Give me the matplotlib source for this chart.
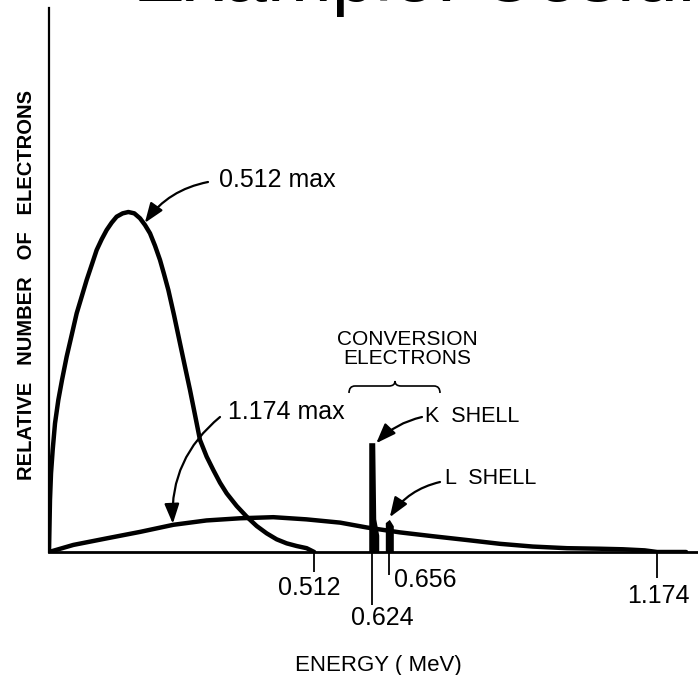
import matplotlib.pyplot as plt
from matplotlib.path import Path
from matplotlib.patches import PathPatch
import numpy as np

# beta spectrum, 0.512 MeV end point
e_512 = [0.0, 0.0013, 0.0019, 0.0039, 0.0071, 0.0116, 0.018, 0.0251, 0.0341, 0.0438,
         0.0534, 0.0631, 0.0727, 0.0824, 0.092, 0.1017, 0.1113, 0.121, 0.1306, 0.1422,
         0.1532, 0.1647, 0.1757, 0.1853, 0.195, 0.2046, 0.2143, 0.222, 0.2304, 0.2413,
         0.2529, 0.2625, 0.2722, 0.2819, 0.2915, 0.3044, 0.3172, 0.3301, 0.343, 0.3623,
         0.3816, 0.4009, 0.4202, 0.4395, 0.4588, 0.4781, 0.4974, 0.512]
n_512 = [0.0, 0.65, 0.956, 1.446, 1.875, 2.365, 2.794, 3.162, 3.591, 3.989,
         4.387, 4.694, 5.0, 5.276, 5.551, 5.748, 5.919, 6.054, 6.164, 6.225,
         6.25, 6.225, 6.134, 6.011, 5.858, 5.631, 5.368, 5.11, 4.816, 4.357,
         3.836, 3.407, 2.978, 2.518, 2.059, 1.752, 1.507, 1.274, 1.078, 0.846,
         0.65, 0.478, 0.343, 0.233, 0.159, 0.11, 0.07, 0.0]

# beta spectrum, 1.174 MeV end point
e_1174 = [0.0, 0.047, 0.111, 0.176, 0.240, 0.304, 0.369, 0.433, 0.497, 0.562, 0.614,
          0.678, 0.741, 0.807, 0.871, 0.934, 1.000, 1.064, 1.108, 1.150, 1.174, 1.23]
n_1174 = [0.0, 0.13, 0.25, 0.37, 0.50, 0.58, 0.62, 0.64, 0.60, 0.54, 0.45,
          0.36, 0.29, 0.22, 0.15, 0.10, 0.07, 0.06, 0.05, 0.03, 0.0, 0.0]

# conversion electron lines
k_energy, k_height = 0.624, 2.0
l_energy, l_height = 0.656, 0.59

tick_energies = [0.512, 0.624, 0.656, 1.174]
tick_labels = ['0.512', '0.624', '0.656', '1.174']

W, H = 698, 675
px = 1.0 / 518   # MeV per pixel
py = 1.0 / 54.4  # y units per pixel

plt.rcParams['font.family'] = ['Liberation Sans', 'DejaVu Sans']
fig = plt.figure(figsize=(W / 100, H / 100), dpi=100)
ax = fig.add_axes([49 / W, 123 / H, 649 / W, 544 / H])
ax.set_xlim(0, 649 * px)
ax.set_ylim(0, 10)

for s in ['top', 'right']:
    ax.spines[s].set_visible(False)
ax.spines['left'].set_linewidth(1.6)
ax.spines['bottom'].set_linewidth(2.0)
ax.set_yticks([])

# curves
ax.plot(e_512, n_512, color='black', lw=3.2, solid_joinstyle='round', solid_capstyle='round')
ax.plot(e_1174, n_1174, color='black', lw=3.2, solid_joinstyle='round', solid_capstyle='round')

# K and L shell spikes
ax.fill([k_energy - 3 * px, k_energy - 3 * px, k_energy + 3 * px, k_energy + 4 * px, k_energy + 7 * px, k_energy + 7 * px],
        [0, k_height, k_height, 0.6, 0.3, 0], color='black', lw=0)
ax.fill([l_energy - 3 * px, l_energy - 3 * px, l_energy + 1 * px, l_energy + 5 * px, l_energy + 5 * px],
        [0, l_height * 0.9, l_height, l_height * 0.8, 0], color='black', lw=0)

# ticks of various lengths
ax.set_xticks(tick_energies)
ax.tick_params(axis='x', direction='out', width=1.3, labelbottom=False)
tick_len = [14.4, 38.5, 16.8, 18.7]
for t, ln in zip(ax.xaxis.get_major_ticks(), tick_len):
    t.tick1line.set_markersize(ln)

label_off = [(-3.6, -25.9, 'center'), (7.2, -47.5, 'center'), (3.6, -20.2, 'left'), (0.7, -31.7, 'center')]
for e, lab, (dx, dy, ha) in zip(tick_energies, tick_labels, label_off):
    ax.annotate(lab, xy=(e, 0), xytext=(dx, dy), textcoords='offset points',
                ha=ha, va='center', fontsize=18, annotation_clip=False)

# title (mostly off the top of the picture)
fig.text(133 / W, 1 - 1 / H, 'Example: Cesium-137', fontsize=56, va='baseline', ha='left')

fig.text(378 / W, 1 - 665 / H, 'ENERGY ( MeV)', fontsize=16, ha='center', va='center')
fig.text(27 / W, 1 - 285 / H, 'RELATIVE   NUMBER   OF   ELECTRONS', fontsize=14.5, fontweight='bold',
         rotation=90, ha='center', va='center')

# annotations
fig.text(219 / W, 1 - 180 / H, '0.512 max', fontsize=18, ha='left', va='center')
fig.text(228 / W, 1 - 412 / H, '1.174 max', fontsize=18, ha='left', va='center')
fig.text(407 / W, 1 - 340 / H, 'CONVERSION', fontsize=15, ha='center', va='center')
fig.text(407 / W, 1 - 358 / H, 'ELECTRONS', fontsize=15, ha='center', va='center')
fig.text(425 / W, 1 - 417 / H, 'K  SHELL', fontsize=15.5, ha='left', va='center')
fig.text(445 / W, 1 - 478 / H, 'L  SHELL', fontsize=15.5, ha='left', va='center')

arrow = dict(arrowstyle='-|>,head_length=0.75,head_width=0.28', color='black', lw=1.6,
             shrinkA=0, shrinkB=0, mutation_scale=16)
arrows = [((0.185, 6.05), (208, H - 182), 0.2),
          ((0.239, 0.52), (220, H - 417), 0.25),
          ((k_energy + 4 * px, k_height), (422, H - 417), 0.15),
          ((l_energy + 1 * px, l_height + 0.05), (440, H - 482), 0.2)]
for xy, xyt, rad in arrows:
    ax.annotate('', xy=xy, xytext=xyt, textcoords='figure pixels', annotation_clip=False,
                arrowprops=dict(arrow, connectionstyle=f'arc3,rad={rad}'))

# curly brace over the conversion lines
bx0, bx1, bc = 349, 440, 395
yb, ym, yt = 393, 386, 381
verts_px = [(bx0, yb), (bx0, ym), (bx0 + 6, ym), (bc - 6, ym), (bc, ym), (bc, yt),
            (bc, ym), (bc + 6, ym), (bx1 - 6, ym), (bx1, ym), (bx1, yb)]
codes = [Path.MOVETO, Path.CURVE3, Path.CURVE3, Path.LINETO, Path.CURVE3, Path.CURVE3,
         Path.CURVE3, Path.CURVE3, Path.LINETO, Path.CURVE3, Path.CURVE3]
verts = [((x - 49) * px, (552 - y) * py) for x, y in verts_px]
ax.add_patch(PathPatch(Path(verts, codes), fill=False, lw=1.2, color='black', clip_on=False))

fig.savefig('out.png', dpi=100)
